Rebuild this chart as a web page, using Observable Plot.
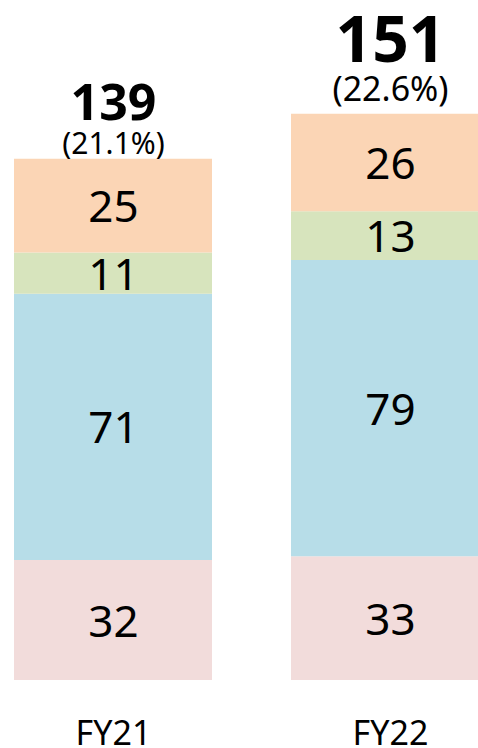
<!DOCTYPE html>
<html>
<head>
<meta charset="utf-8">
<script src="https://cdn.jsdelivr.net/npm/d3@7"></script>
<script src="https://cdn.jsdelivr.net/npm/@observablehq/plot@0.6"></script>
<style>
  html, body { margin: 0; padding: 0; background: #fff; overflow: hidden; }
  #chart { width: 478px; height: 748px; overflow: hidden; }
</style>
</head>
<body>
<div id="chart"></div>
<script>
const years = ["FY21", "FY22"];
const segments = ["s1", "s2", "s3", "s4"]; // bottom to top
const s1Values = [32, 33];
const s2Values = [71, 79];
const s3Values = [11, 13];
const s4Values = [25, 26];
const totals = [139, 151];
const shares = ["(21.1%)", "(22.6%)"];
const segColors = ["#F2DCDB", "#B7DDE8", "#D7E4BD", "#FBD5B5"];

const series = [s1Values, s2Values, s3Values, s4Values];
const rows = [];
years.forEach((yr, i) => {
  series.forEach((vals, k) => rows.push({year: yr, seg: segments[k], value: vals[i]}));
});
const tots = years.map((yr, i) => ({year: yr, total: totals[i], share: shares[i], i}));

const FONT = "'Noto Sans', sans-serif";

const chart = Plot.plot({
  width: 478,
  height: 748,
  marginTop: 0, marginRight: 0, marginLeft: 0, marginBottom: 68,
  style: {fontFamily: FONT, background: "#fff", color: "#000"},
  x: {domain: years, range: [13, 490], paddingInner: 0.284, paddingOuter: 0, align: 0.5},
  y: {domain: [0, 160], range: [680, 80], axis: null},
  color: {domain: segments, range: segColors},
  marks: [
    Plot.barY(rows, {x: "year", y: "value", fill: "seg", order: segments, inset: 0}),
    Plot.text(rows, Plot.stackY({x: "year", y: "value", z: "seg", order: segments, text: d => String(d.value), fontSize: 44, dy: 2, fill: "#000"})),
    Plot.text(tots.filter(d => d.i === 0), {x: "year", y: "total", text: d => String(d.total), fontSize: 50, fontWeight: "bold", lineAnchor: "bottom", dy: -39, fill: "#000"}),
    Plot.text(tots.filter(d => d.i === 0), {x: "year", y: "total", text: "share", fontSize: 30, lineAnchor: "bottom", dy: -5, fill: "#000"}),
    Plot.text(tots.filter(d => d.i === 1), {x: "year", y: "total", text: d => String(d.total), fontSize: 64, fontWeight: "bold", lineAnchor: "bottom", dy: -52, fill: "#000"}),
    Plot.text(tots.filter(d => d.i === 1), {x: "year", y: "total", text: "share", fontSize: 34, lineAnchor: "bottom", dy: -13, fill: "#000"}),
    Plot.axisX({tickSize: 0, tickPadding: 40, fontSize: 34, label: null})
  ]
});
document.getElementById("chart").append(chart);
</script>
</body>
</html>
